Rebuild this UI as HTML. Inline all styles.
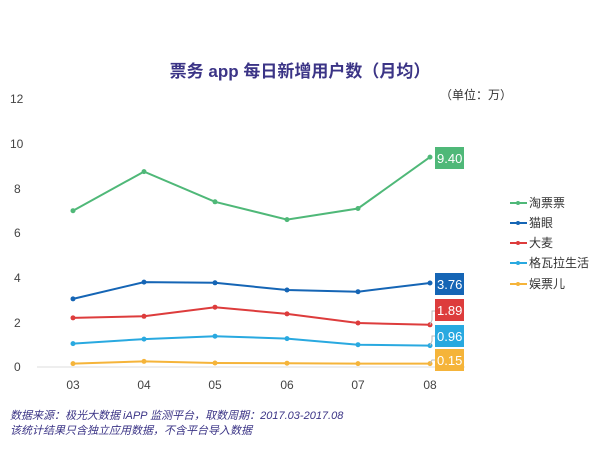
<!DOCTYPE html>
<html><head><meta charset="utf-8"><style>
body{margin:0;background:#fff;}
svg text{font-family:"Liberation Sans","Noto Sans CJK SC",sans-serif;}
</style></head><body>
<svg width="600" height="450" xmlns="http://www.w3.org/2000/svg">
<text x="300" y="77" text-anchor="middle" font-size="17" font-weight="bold" fill="#3b3486">票务 app 每日新增用户数（月均）</text>
<text x="476" y="99" text-anchor="middle" font-size="12" fill="#333">（单位：万）</text>
<g font-size="12" fill="#444" text-anchor="start">
<text x="10" y="103">12</text><text x="10" y="148">10</text><text x="14" y="193">8</text>
<text x="14" y="237">6</text><text x="14" y="282">4</text><text x="14" y="327">2</text><text x="14" y="371">0</text>
</g>
<line x1="37" y1="367" x2="465" y2="367" stroke="#ddd"/>
<g font-size="12" fill="#444" text-anchor="middle">
<text x="73" y="389">03</text><text x="144" y="389">04</text><text x="215" y="389">05</text>
<text x="287" y="389">06</text><text x="358" y="389">07</text><text x="430" y="389">08</text>
</g>
<g fill="none" stroke-width="2">
<polyline stroke="#4fb878" points="73,210.7 144,171.6 215,201.8 287,219.6 358,208.5 430,157.1"/>
<polyline stroke="#1565b5" points="73,298.9 144,282.1 215,282.8 287,290 358,291.7 430,283"/>
<polyline stroke="#dd3c3c" points="73,317.9 144,316.3 215,307.2 287,313.9 358,323 430,324.8"/>
<polyline stroke="#29a9e0" points="73,343.6 144,339.1 215,336.2 287,338.6 358,344.7 430,345.6"/>
<polyline stroke="#f5b43a" points="73,363.6 144,361.4 215,363 287,363.2 358,363.6 430,363.6"/>
</g>
<g>
<g fill="#4fb878"><circle cx="73" cy="210.7" r="2.5"/><circle cx="144" cy="171.6" r="2.5"/><circle cx="215" cy="201.8" r="2.5"/><circle cx="287" cy="219.6" r="2.5"/><circle cx="358" cy="208.5" r="2.5"/><circle cx="430" cy="157.1" r="2.5"/></g>
<g fill="#1565b5"><circle cx="73" cy="298.9" r="2.5"/><circle cx="144" cy="282.1" r="2.5"/><circle cx="215" cy="282.8" r="2.5"/><circle cx="287" cy="290" r="2.5"/><circle cx="358" cy="291.7" r="2.5"/><circle cx="430" cy="283" r="2.5"/></g>
<g fill="#dd3c3c"><circle cx="73" cy="317.9" r="2.5"/><circle cx="144" cy="316.3" r="2.5"/><circle cx="215" cy="307.2" r="2.5"/><circle cx="287" cy="313.9" r="2.5"/><circle cx="358" cy="323" r="2.5"/><circle cx="430" cy="324.8" r="2.5"/></g>
<g fill="#29a9e0"><circle cx="73" cy="343.6" r="2.5"/><circle cx="144" cy="339.1" r="2.5"/><circle cx="215" cy="336.2" r="2.5"/><circle cx="287" cy="338.6" r="2.5"/><circle cx="358" cy="344.7" r="2.5"/><circle cx="430" cy="345.6" r="2.5"/></g>
<g fill="#f5b43a"><circle cx="73" cy="363.6" r="2.5"/><circle cx="144" cy="361.4" r="2.5"/><circle cx="215" cy="363" r="2.5"/><circle cx="287" cy="363.2" r="2.5"/><circle cx="358" cy="363.6" r="2.5"/><circle cx="430" cy="363.6" r="2.5"/></g>
</g>
<g fill="none" stroke="#bbb" stroke-width="1">
<polyline points="430,324.8 432,320 432,311 435,311"/>
<polyline points="430,345.6 432,341 432,336 435,336"/>
<polyline points="430,363.6 432,360 432,360 435,360"/>
</g>
<g font-size="13" fill="#fff">
<rect x="435" y="147" width="29" height="22" fill="#4fb878"/><text x="437" y="163">9.40</text>
<rect x="435" y="273" width="29" height="22" fill="#1565b5"/><text x="437" y="289">3.76</text>
<rect x="435" y="299" width="29" height="22" fill="#dd3c3c"/><text x="437" y="315">1.89</text>
<rect x="435" y="325" width="29" height="22" fill="#29a9e0"/><text x="437" y="341">0.96</text>
<rect x="435" y="349" width="29" height="22" fill="#f5b43a"/><text x="437" y="365">0.15</text>
</g>
<g font-size="12" fill="#333">
<line x1="510" y1="203" x2="527" y2="203" stroke="#4fb878" stroke-width="2"/><circle cx="518" cy="203" r="2" fill="#4fb878"/><text x="529" y="207">淘票票</text>
<line x1="510" y1="223" x2="527" y2="223" stroke="#1565b5" stroke-width="2"/><circle cx="518" cy="223" r="2" fill="#1565b5"/><text x="529" y="227">猫眼</text>
<line x1="510" y1="243" x2="527" y2="243" stroke="#dd3c3c" stroke-width="2"/><circle cx="518" cy="243" r="2" fill="#dd3c3c"/><text x="529" y="247">大麦</text>
<line x1="510" y1="263" x2="527" y2="263" stroke="#29a9e0" stroke-width="2"/><circle cx="518" cy="263" r="2" fill="#29a9e0"/><text x="529" y="267">格瓦拉生活</text>
<line x1="510" y1="284" x2="527" y2="284" stroke="#f5b43a" stroke-width="2"/><circle cx="518" cy="284" r="2" fill="#f5b43a"/><text x="529" y="288">娱票儿</text>
</g>
<g font-size="11" fill="#3b3486" font-style="italic">
<text x="10" y="419">数据来源：极光大数据 iAPP 监测平台，取数周期：2017.03-2017.08</text>
<text x="10" y="434">该统计结果只含独立应用数据，不含平台导入数据</text>
</g>
</svg>
</body></html>
